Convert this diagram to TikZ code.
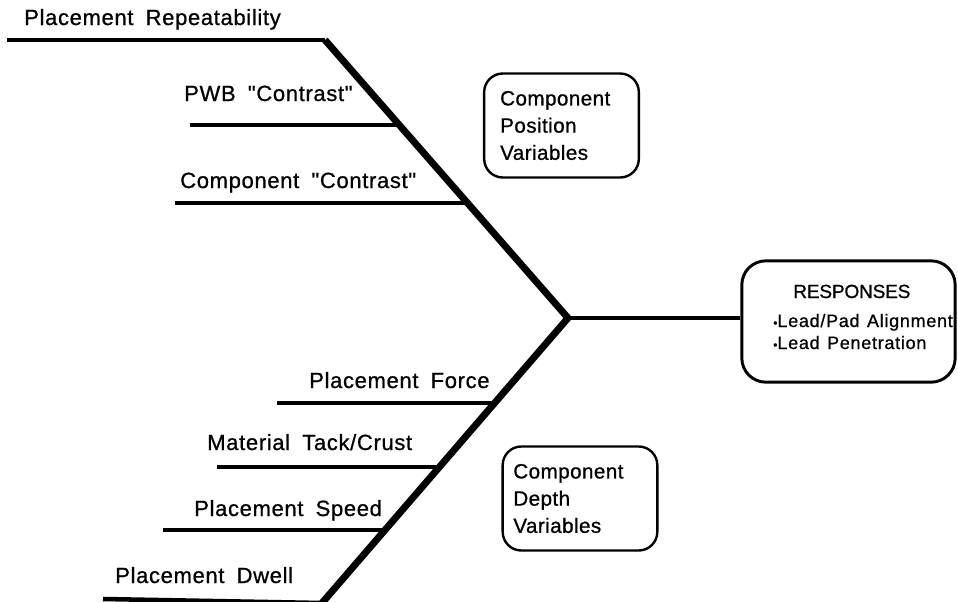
\documentclass[tikz,border=0pt]{standalone}
\usepackage{fontspec}
\setmainfont{Liberation Sans}
\newfontfamily\causefont[LetterSpace=3,WordSpace=1.8,FakeBold=0.8]{Liberation Sans}
\newfontfamily\boxfont[LetterSpace=2,FakeBold=0.8]{Liberation Sans}
\newfontfamily\respfont[LetterSpace=4,WordSpace=1.3,FakeBold=0.8]{Liberation Sans}
\newfontfamily\headfont[LetterSpace=-1,FakeBold=0.8]{Liberation Sans}
\begin{document}
\begin{tikzpicture}[x=0.75pt,y=-0.75pt,
  cause/.style={font=\causefont\fontsize{16.5}{19}\selectfont, anchor=base west, inner sep=0pt},
  spine/.style={line width=5.2pt},
  bone/.style={line width=3.4pt},
  groupbox/.style={draw, line width=1.8pt, rounded corners=14pt, inner sep=0pt,
    minimum width=116pt, minimum height=78pt, align=left,
    font=\boxfont\fontsize{15.5}{20.4}\selectfont},
  respbox/.style={draw, line width=2.2pt, rounded corners=18pt, inner sep=0pt,
    minimum width=160pt, minimum height=91pt},
  resptext/.style={font=\respfont\fontsize{13.5}{16}\selectfont, anchor=base west, inner sep=0pt}
]
\useasboundingbox (0,0) rectangle (958,601);

% spine junction and the ends of the two diagonal spines
\coordinate (j) at (568,318);
\coordinate (top) at (325,40);
\coordinate (bot) at (322,603);

% points where the cause lines meet the spines
\coordinate (a1) at (399,125);
\coordinate (a2) at (467,203);
\coordinate (b1) at (494,403);
\coordinate (b2) at (438.5,467);
\coordinate (b3) at (384,530);

% free ends of the cause lines
\coordinate (e0) at (7,40);
\coordinate (e1) at (190,125);
\coordinate (e2) at (175,203);
\coordinate (f1) at (277,403);
\coordinate (f2) at (217,467);
\coordinate (f3) at (163,530);
\coordinate (f4) at (103,599);

% cause labels
\node[cause] (rep) at (24,25) {Placement Repeatability};
\node[cause] (pwb) at (184,101) {PWB "Contrast"};
\node[cause] (ccon) at (180,188) {Component "Contrast"};
\node[cause] (force) at (309,388) {Placement Force};
\node[cause] (tack) at (207,450) {Material Tack/Crust};
\node[cause] (speed) at (194,516) {Placement Speed};
\node[cause] (dwell) at (115,583) {Placement Dwell};

% group boxes
\node[groupbox, text width=92pt] (posbox) at (561.5,125.5) {Component\\Position\\Variables};
\node[groupbox, text width=100pt] (depbox) at (580,498.5) {Component\\Depth\\Variables};

% response box
\node[respbox] (resp) at (848.5,321.5) {};
\node[font=\headfont\fontsize{14.3}{16}\selectfont, anchor=base west, inner sep=0pt] (resphead) at (793,298) {RESPONSES};
\node[resptext] (resp1) at (773,327) {{\fontsize{9}{10}\selectfont•}Lead/Pad Alignment};
\node[resptext] (resp2) at (773,349) {{\fontsize{9}{10}\selectfont•}Lead Penetration};

% cause lines
\draw[bone] (e0) -- (top);
\draw[bone] (e1) -- (a1);
\draw[bone] (e2) -- (a2);
\draw[bone] (f1) -- (b1);
\draw[bone] (f2) -- (b2);
\draw[bone] (f3) -- (b3);
\draw[bone] (f4) -- (bot);

% spines and the line to the responses
\draw[spine, line join=miter] (top) -- (j) -- (bot);
\draw[line width=3pt] (j) -- (j -| resp.west);
\end{tikzpicture}
\end{document}
